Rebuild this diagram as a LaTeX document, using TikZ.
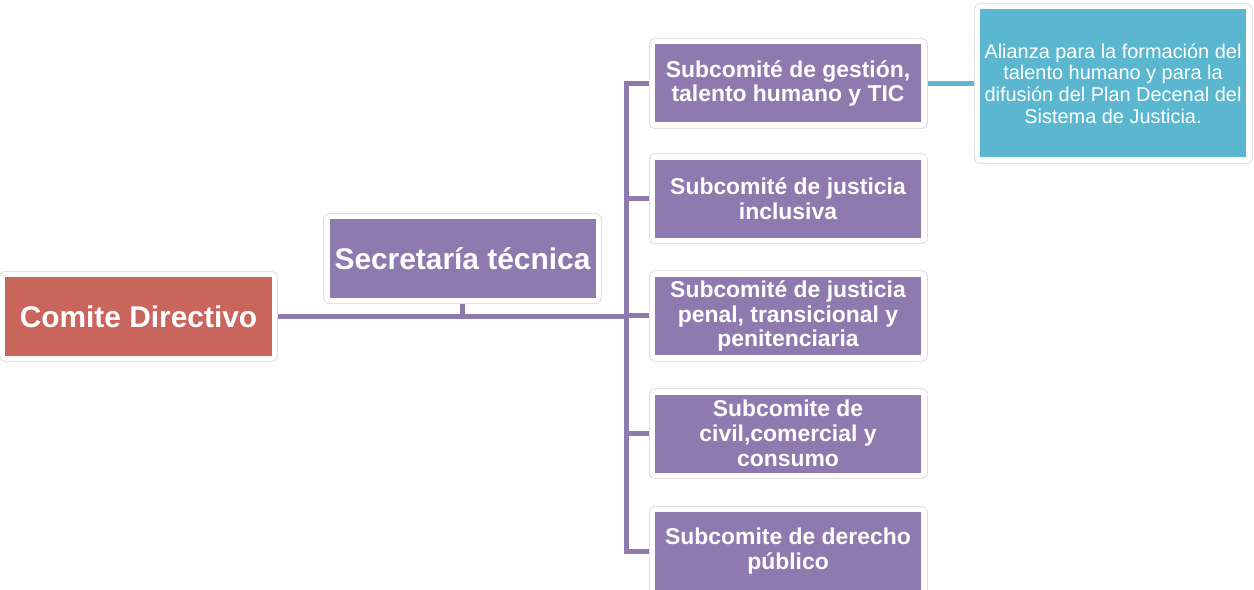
\documentclass[tikz,border=0pt]{standalone}
\usepackage{fontspec}
\setmainfont{Liberation Sans}
\usepackage{xcolor}
\usepackage{tikz}
\usetikzlibrary{positioning, backgrounds}

\definecolor{rojo}{HTML}{C9655C}
\definecolor{morado}{HTML}{8F7AAF}
\definecolor{azul}{HTML}{5AB7CF}

\tikzset{
  box/.style={rectangle, inner sep=0pt, align=center, text=white,
    minimum width=266bp, minimum height=78bp, line join=round,
    preaction={draw=black!12, line width=13bp},
    preaction={draw=white, line width=11bp}},
  bigbox/.style={box, fill=#1, font=\bfseries\fontsize{30}{34}\selectfont},
  subbox/.style={box, fill=morado, font=\bfseries\fontsize{23}{25}\selectfont},
  notebox/.style={box, fill=azul, minimum height=148bp, font=\fontsize{20}{21.7}\selectfont},
  link/.style={draw=morado, line width=5bp},
}

\begin{document}
\begin{tikzpicture}[x=1bp, y=-1bp]
        \useasboundingbox (0,0) rectangle (1254,590);

        % Main boxes
        \node[bigbox=rojo] (comite) at (138.5,316.5) {Comite Directivo};
        \node[bigbox=morado] (sec) at (462.5,258.5) {Secretaría técnica};

        % Subcomites
        \node[subbox] (sub1) at (788,83.5) {Subcomité de gestión,\\talento humano y TIC};
        \node[subbox] (sub2) at (788,199) {Subcomité de justicia\\inclusiva};
        \node[subbox] (sub3) at (788,316) {Subcomité de justicia\\penal, transicional y\\penitenciaria};
        \node[subbox] (sub4) at (788,433.5) {Subcomite de\\civil,comercial y\\consumo};
        \node[subbox] (sub5) at (788,551) {Subcomite de derecho\\público};

        \node[notebox] (alianza) at (1113,83.5) {Alianza para la formación del\\talento humano y para la\\difusión del Plan Decenal del\\Sistema de Justicia.};

        % Connectors
        \coordinate (hub) at (626,316.5);
        \begin{scope}[on background layer]
          \draw[link] (comite) -- (hub);
          \draw[link] (sec) -- (sec |- hub);
          \foreach \i in {1,...,5}
            \draw[link] (hub) |- (sub\i);
          \draw[link, draw=azul] (sub1) -- (alianza);
        \end{scope}
      \end{tikzpicture}
\end{document}
